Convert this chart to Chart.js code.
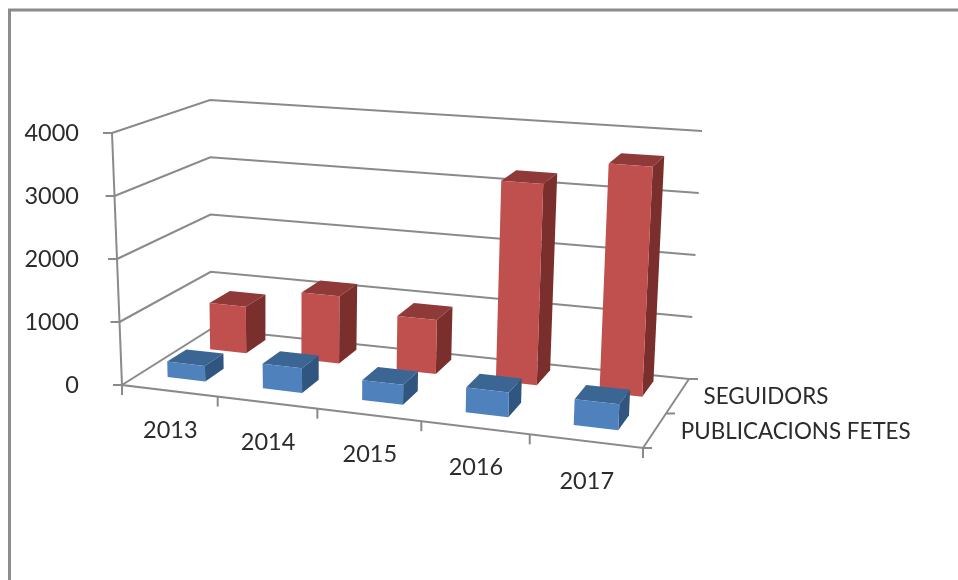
<!DOCTYPE html>
<html>
<head>
<meta charset="utf-8">
<title>Seguidors</title>
<script src="https://cdn.jsdelivr.net/npm/chart.js@4"></script>
<style>
  html, body { margin: 0; padding: 0; background: #fff; }
  canvas { display: block; }
</style>
</head>
<body>
<canvas id="chart" width="958" height="580"></canvas>
<script>
const years = ['2013', '2014', '2015', '2016', '2017'];
const publicacions = [250, 390, 310, 380, 390];
const seguidors = [780, 1110, 880, 3220, 3620];
const yTicks = [0, 1000, 2000, 3000, 4000];

const TEXT = '#2b2b2b';
const GRID = '#8a8a8a';

// corners of the 3D box on the page: f/b front/back, l/r left/right, t/b top/bottom
const corners = {
    flb: [122, 385], frb: [643, 448], blb: [211, 329], brb: [689, 379],
    flt: [112, 133], frt: [655, 176], blt: [210, 100], brt: [702, 131]
};
const perspective = 0.9;
const depths = [[0.2, 0.42], [0.69, 0.92]];   // floor depth of each series
const faces = [
    { front: '#4f81bd', top: '#3b6592', side: '#305680' },
    { front: '#c0504d', top: '#8f3a38', side: '#7a2f2d' }
];

const mix = (a, b, t) => [a[0] + (b[0] - a[0]) * t, a[1] + (b[1] - a[1]) * t];

// chart area pixel + depth -> page pixel
function project(chart, px, py, d) {
    const area = chart.chartArea;
    let u = (px - area.left) / (area.right - area.left);
    const v = (area.bottom - py) / (area.bottom - area.top);
    u = u * perspective / (1 + (perspective - 1) * u);
    const c = corners;
    const bottom = mix(mix(c.flb, c.frb, u), mix(c.blb, c.brb, u), d);
    const top = mix(mix(c.flt, c.frt, u), mix(c.blt, c.brt, u), d);
    return mix(bottom, top, v);
}

function line(ctx, pts) {
    ctx.beginPath();
    pts.forEach((p, i) => i ? ctx.lineTo(p[0], p[1]) : ctx.moveTo(p[0], p[1]));
    ctx.stroke();
}

function poly(ctx, pts, color) {
    ctx.beginPath();
    pts.forEach((p, i) => i ? ctx.lineTo(p[0], p[1]) : ctx.moveTo(p[0], p[1]));
    ctx.closePath();
    ctx.fillStyle = color;
    ctx.fill();
}

const box3d = {
    id: 'box3d',
    beforeDatasetsDraw(chart) {
        const { ctx, chartArea: a, scales } = chart;
        const P = (px, py, d) => project(chart, px, py, d);
        ctx.save();

        // page frame
        ctx.strokeStyle = '#8c8c8c';
        ctx.lineWidth = 3;
        line(ctx, [[9.5, 580], [9.5, 10], [958, 10]]);

        // walls and floor
        ctx.strokeStyle = GRID;
        ctx.lineWidth = 2;
        yTicks.forEach(t => {
            const y = scales.y.getPixelForValue(t);
            line(ctx, [P(a.left, y, 0), P(a.left, y, 1), P(a.right, y, 1)]);
            const f = P(a.left, y, 0);
            line(ctx, [f, [f[0] - 9, f[1]]]);
        });
        line(ctx, [P(a.left, a.top, 0), P(a.left, a.bottom, 0), P(a.right, a.bottom, 0), P(a.right, a.bottom, 1)]);

        // axis ticks
        for (let i = 0; i <= years.length; i++) {
            const f = P(a.left + (a.right - a.left) * i / years.length, a.bottom, 0);
            line(ctx, [f, [f[0], f[1] + 10]]);
        }
        [0, 0.5, 1].forEach(d => {
            const f = P(a.right, a.bottom, d);
            line(ctx, [f, [f[0] + 9, f[1]]]);
        });

        // back series first, each box from the bar element chart.js laid out
        [1, 0].forEach(s => {
            const [d0, d1] = depths[s];
            const col = faces[s];
            chart.getDatasetMeta(s).data.forEach(bar => {
                const l = bar.x - bar.width / 2, r = bar.x + bar.width / 2;
                poly(ctx, [P(l, bar.y, d0), P(l, bar.y, d1), P(r, bar.y, d1), P(r, bar.y, d0)], col.top);
                poly(ctx, [P(r, bar.y, d0), P(r, bar.y, d1), P(r, bar.base, d1), P(r, bar.base, d0)], col.side);
                poly(ctx, [P(l, bar.y, d0), P(r, bar.y, d0), P(r, bar.base, d0), P(l, bar.base, d0)], col.front);
            });
        });

        // category and series labels
        ctx.fillStyle = TEXT;
        ctx.textBaseline = 'middle';
        ctx.textAlign = 'center';
        ctx.font = '23.5px Lato';
        years.forEach((label, i) => {
            const f = P(scales.x.getPixelForValue(i), a.bottom, 0);
            ctx.fillText(label, f[0] + 1, f[1] + 40);
        });
        ctx.textAlign = 'left';
        ctx.font = '22.4px Lato';
        const s1 = P(a.right, a.bottom, 0.75), s0 = P(a.right, a.bottom, 0.3);
        ctx.fillText(chart.data.datasets[1].label, s1[0] + 26, s1[1] + 1);
        ctx.fillText(chart.data.datasets[0].label, s0[0] + 24, s0[1] + 4);

        ctx.restore();
        return false;   // boxes replace the flat bars
    }
};

new Chart(document.getElementById('chart'), {
    type: 'bar',
    data: {
        labels: years,
        datasets: [
            { label: 'PUBLICACIONS FETES', data: publicacions, backgroundColor: faces[0].front, grouped: false, categoryPercentage: 1, barPercentage: 0.4 },
            { label: 'SEGUIDORS', data: seguidors, backgroundColor: faces[1].front, grouped: false, categoryPercentage: 1, barPercentage: 0.4 }
        ]
    },
    options: {
        responsive: false,
        animation: false,
        layout: { padding: { top: 133, right: 315, bottom: 195, left: 0 } },
        plugins: { legend: { display: false }, tooltip: { enabled: false } },
        scales: {
            x: { display: false },
            y: {
                min: 0, max: 4000,
                afterFit(scale) { scale.width = 122; },
                grid: { display: false },
                border: { display: false },
                ticks: {
                    stepSize: 1000, padding: 35, color: TEXT,
                    font: { family: 'Lato', size: 23.5 },
                    callback: v => String(v)
                }
            }
        }
    },
    plugins: [box3d]
});
</script>
</body>
</html>
